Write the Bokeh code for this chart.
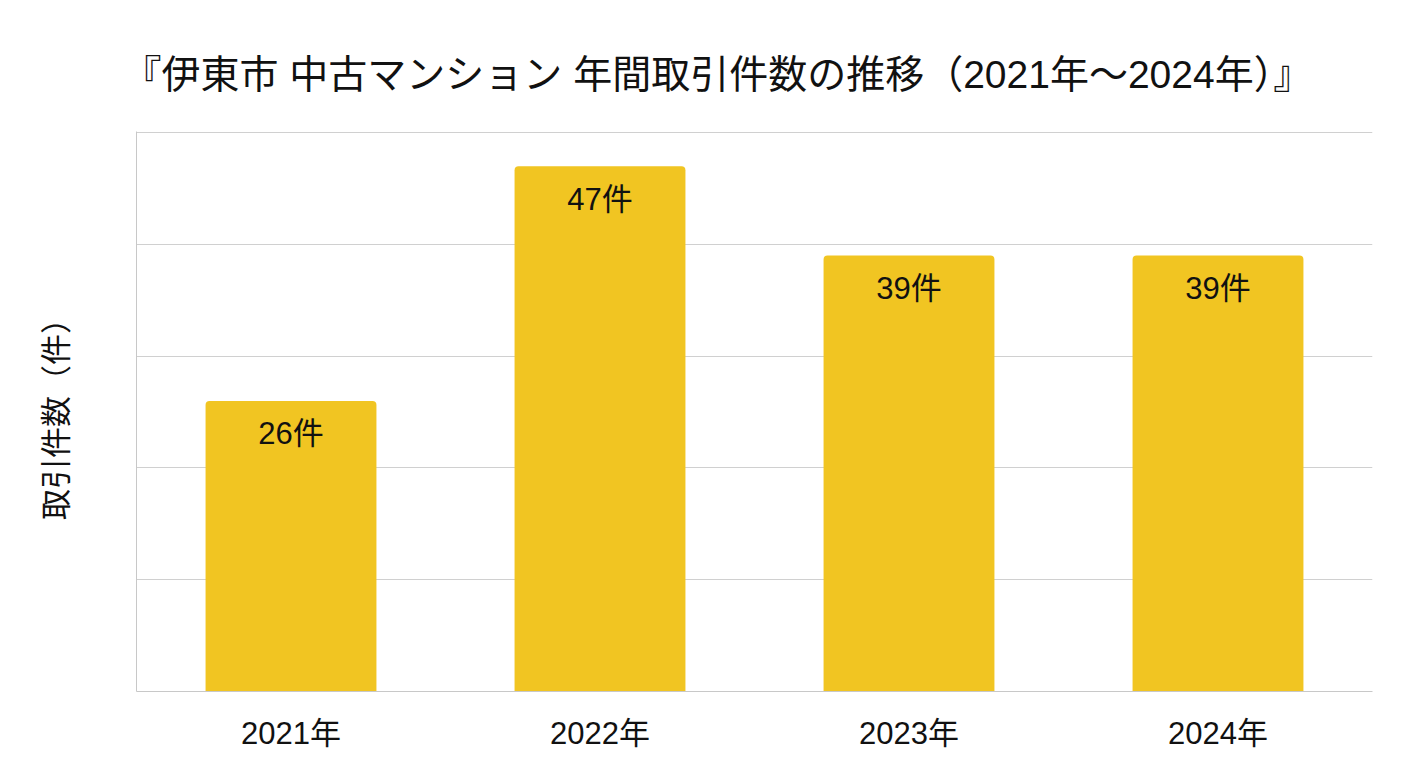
from bokeh.plotting import figure
from bokeh.models import ColumnDataSource, FixedTicker, Range1d
from bokeh.core.properties import value
from bokeh.embed import file_html
from bokeh.resources import INLINE

# Data
years = ["2021年", "2022年", "2023年", "2024年"]
counts = [26, 47, 39, 39]
labels = ["26件", "47件", "39件", "39件"]
grid_ticks = [0, 10, 20, 30, 40, 50]

FONT = "Liberation Sans, Noto Sans CJK JP"
BAR_COLOR = "#F1C522"

source = ColumnDataSource(data=dict(year=years, count=counts, label=labels))

p = figure(
    x_range=years,
    y_range=Range1d(0, 50.1),
    width=1400,
    height=760,
    title="『伊東市 中古マンション 年間取引件数の推移（2021年〜2024年）』",
    output_backend="svg",
    toolbar_location=None,
    min_border_left=136,
    min_border_right=28,
    min_border_top=131,
    min_border_bottom=69,
)

# title
p.title.text_font = FONT
p.title.text_font_size = "39px"
p.title.text_font_style = "normal"
p.title.text_color = "#111111"
p.title.align = "left"
p.title.offset = -14
p.title.standoff = 72

# bars
p.vbar(x="year", top="count", width=0.553, source=source,
       fill_color=BAR_COLOR, line_color=None,
       border_radius=(4, 4, 0, 0))

# labels inside the bars
p.text(x="year", y="count", text="label", source=source,
       text_font=value(FONT), text_font_size="31px",
       text_align="center", text_baseline="middle",
       text_color="#111111", y_offset=33)

# axes
p.xaxis.axis_line_color = "#c8c8c8"
p.xaxis.major_tick_line_color = None
p.xaxis.minor_tick_line_color = None
p.xaxis.major_label_text_font = FONT
p.xaxis.major_label_text_font_size = "31px"
p.xaxis.major_label_text_color = "#111111"
p.xaxis.major_label_standoff = 18

p.yaxis.ticker = FixedTicker(ticks=[])
p.yaxis.axis_line_color = "#c8c8c8"
p.yaxis.major_tick_line_color = None
p.yaxis.minor_tick_line_color = None
p.yaxis.axis_label = "取引件数（件）"
p.yaxis.axis_label_text_font = FONT
p.yaxis.axis_label_text_font_size = "31px"
p.yaxis.axis_label_text_font_style = "normal"
p.yaxis.axis_label_text_color = "#111111"
p.yaxis.axis_label_standoff = 63

# grid
p.xgrid.grid_line_color = None
p.ygrid.ticker = FixedTicker(ticks=grid_ticks)
p.ygrid.grid_line_color = "#d0d0d0"
p.ygrid.grid_line_width = 1.2
p.outline_line_color = None

open("out.html", "w").write(file_html(p, INLINE))
